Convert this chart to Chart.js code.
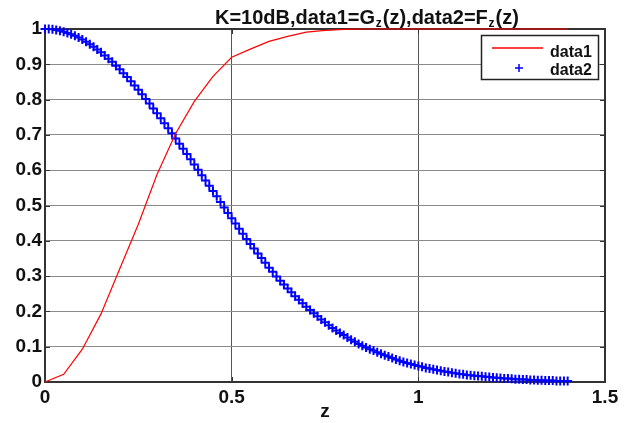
<!DOCTYPE html>
<html>
<head>
<meta charset="utf-8">
<script src="https://cdn.jsdelivr.net/npm/chart.js@4.4.1/dist/chart.umd.min.js"></script>
<style>
  html, body { margin: 0; padding: 0; background: #fff; }
  #wrap { width: 634px; height: 423px; }
</style>
</head>
<body>
<div id="wrap"><canvas id="chart" width="634" height="423"></canvas></div>
<script>
// data1 = G_z(z), red line
const zRed = [0, 0.05, 0.1, 0.15, 0.2, 0.25, 0.3, 0.35, 0.4, 0.45, 0.5, 0.55, 0.6, 0.65, 0.7,
  0.75, 0.8, 0.85, 0.9, 0.95, 1.0, 1.05, 1.1, 1.15, 1.2, 1.25, 1.3, 1.35, 1.4];
const gRed = [0, 0.022, 0.093, 0.193, 0.32, 0.447, 0.588, 0.704, 0.795, 0.866, 0.92, 0.943, 0.965, 0.979, 0.991,
  0.996, 0.999, 1, 1, 1, 1, 1, 1, 1, 1, 1, 1, 1, 1];

// data2 = F_z(z), blue "+" markers
const zBlue = [
  0, 0.01, 0.02, 0.03, 0.04, 0.05, 0.06, 0.07, 0.08, 0.09,
  0.1, 0.11, 0.12, 0.13, 0.14, 0.15, 0.16, 0.17, 0.18, 0.19,
  0.2, 0.21, 0.22, 0.23, 0.24, 0.25, 0.26, 0.27, 0.28, 0.29,
  0.3, 0.31, 0.32, 0.33, 0.34, 0.35, 0.36, 0.37, 0.38, 0.39,
  0.4, 0.41, 0.42, 0.43, 0.44, 0.45, 0.46, 0.47, 0.48, 0.49,
  0.5, 0.51, 0.52, 0.53, 0.54, 0.55, 0.56, 0.57, 0.58, 0.59,
  0.6, 0.61, 0.62, 0.63, 0.64, 0.65, 0.66, 0.67, 0.68, 0.69,
  0.7, 0.71, 0.72, 0.73, 0.74, 0.75, 0.76, 0.77, 0.78, 0.79,
  0.8, 0.81, 0.82, 0.83, 0.84, 0.85, 0.86, 0.87, 0.88, 0.89,
  0.9, 0.91, 0.92, 0.93, 0.94, 0.95, 0.96, 0.97, 0.98, 0.99,
  1.0, 1.01, 1.02, 1.03, 1.04, 1.05, 1.06, 1.07, 1.08, 1.09,
  1.1, 1.11, 1.12, 1.13, 1.14, 1.15, 1.16, 1.17, 1.18, 1.19,
  1.2, 1.21, 1.22, 1.23, 1.24, 1.25, 1.26, 1.27, 1.28, 1.29,
  1.3, 1.31, 1.32, 1.33, 1.34, 1.35, 1.36, 1.37, 1.38, 1.39,
  1.4
];
const fBlue = [
  1.000, 1.000, 0.999, 0.997, 0.995, 0.992, 0.989, 0.985, 0.981, 0.976,
  0.970, 0.964, 0.957, 0.950, 0.942, 0.934, 0.925, 0.916, 0.907, 0.896,
  0.886, 0.875, 0.864, 0.852, 0.840, 0.828, 0.815, 0.802, 0.789, 0.775,
  0.761, 0.747, 0.733, 0.719, 0.705, 0.690, 0.675, 0.661, 0.646, 0.631,
  0.616, 0.601, 0.586, 0.571, 0.556, 0.541, 0.526, 0.510, 0.494, 0.479,
  0.464, 0.449, 0.434, 0.420, 0.405, 0.391, 0.378, 0.364, 0.351, 0.338,
  0.324, 0.312, 0.299, 0.287, 0.276, 0.265, 0.254, 0.243, 0.233, 0.223,
  0.213, 0.204, 0.195, 0.186, 0.177, 0.169, 0.161, 0.153, 0.146, 0.139,
  0.133, 0.126, 0.120, 0.114, 0.108, 0.103, 0.098, 0.093, 0.089, 0.084,
  0.080, 0.076, 0.072, 0.068, 0.064, 0.060, 0.057, 0.054, 0.051, 0.048,
  0.045, 0.043, 0.040, 0.038, 0.036, 0.034, 0.032, 0.030, 0.028, 0.026,
  0.025, 0.023, 0.022, 0.020, 0.019, 0.018, 0.017, 0.016, 0.015, 0.014,
  0.013, 0.012, 0.011, 0.010, 0.010, 0.009, 0.008, 0.008, 0.007, 0.007,
  0.006, 0.006, 0.005, 0.005, 0.004, 0.004, 0.004, 0.003, 0.003, 0.003,
  0.003
];

const xTicks = [0, 0.5, 1, 1.5];
const yTicks = [0, 0.1, 0.2, 0.3, 0.4, 0.5, 0.6, 0.7, 0.8, 0.9, 1];
const titleParts = [
  { text: "K=10dB,data1=G", sub: false },
  { text: "z", sub: true },
  { text: "(z),data2=F", sub: false },
  { text: "z", sub: true },
  { text: "(z)", sub: false },
];
const xLabel = "z";
const seriesNames = ["data1", "data2"];

const RED = "#ff0000";
const BLUE = "#0000ff";
const FONT = '"Liberation Sans", Arial, sans-serif';

// axes box + inner tick marks (drawn under the data, like MATLAB)
const boxPlugin = {
  id: "box",
  beforeDatasetsDraw(chart) {
    const { ctx, chartArea: a, scales } = chart;
    ctx.save();
    ctx.strokeStyle = "#333";
    ctx.lineWidth = 1;
    ctx.beginPath();
    yTicks.forEach((v) => {
      const y = Math.round(scales.y.getPixelForValue(v)) + 0.5;
      ctx.moveTo(a.left, y); ctx.lineTo(a.left + 5, y);
      ctx.moveTo(a.right, y); ctx.lineTo(a.right - 5, y);
    });
    xTicks.forEach((v) => {
      const x = Math.round(scales.x.getPixelForValue(v)) + 0.5;
      ctx.moveTo(x, a.bottom); ctx.lineTo(x, a.bottom - 5);
      ctx.moveTo(x, a.top); ctx.lineTo(x, a.top + 5);
    });
    ctx.stroke();
    ctx.lineWidth = 2;
    ctx.strokeRect(a.left, a.top, a.right - a.left, a.bottom - a.top);
    ctx.restore();
  },
};

// title with subscripts + legend box in the top right corner
const textPlugin = {
  id: "texts",
  afterDraw(chart) {
    const ctx = chart.ctx;
    ctx.save();
    ctx.fillStyle = "#111";
    ctx.textBaseline = "alphabetic";
    let x = 215;
    titleParts.forEach((p) => {
      ctx.font = p.sub ? "bold 12px " + FONT : "bold 20px " + FONT;
      ctx.fillText(p.text, x, p.sub ? 27 : 24);
      x += ctx.measureText(p.text).width + (p.sub ? 1 : 0.7);
    });

    // legend
    ctx.fillStyle = "#fff";
    ctx.fillRect(481.5, 35.5, 117, 44);
    ctx.strokeStyle = "#222";
    ctx.lineWidth = 1.5;
    ctx.strokeRect(481.5, 35.5, 117, 44);

    ctx.beginPath();
    ctx.strokeStyle = RED;
    ctx.lineWidth = 1.5;
    ctx.moveTo(492, 48); ctx.lineTo(543, 48);
    ctx.stroke();

    ctx.beginPath();
    ctx.strokeStyle = BLUE;
    ctx.lineWidth = 1.5;
    ctx.moveTo(515, 68); ctx.lineTo(523, 68);
    ctx.moveTo(519, 64); ctx.lineTo(519, 72);
    ctx.stroke();

    ctx.fillStyle = "#111";
    ctx.font = "bold 16px " + FONT;
    ctx.fillText(seriesNames[0], 550, 57);
    ctx.fillText(seriesNames[1], 550, 75);
    ctx.restore();
  },
};

new Chart(document.getElementById("chart"), {
  type: "scatter",
  data: {
    datasets: [
      {
        label: seriesNames[0],
        data: zRed.map((z, i) => ({ x: z, y: gRed[i] })),
        showLine: true,
        borderColor: RED,
        borderWidth: 1.2,
        pointRadius: 0,
        tension: 0,
        clip: false,
      },
      {
        label: seriesNames[1],
        data: zBlue.map((z, i) => ({ x: z, y: fBlue[i] })),
        showLine: false,
        borderColor: BLUE,
        backgroundColor: BLUE,
        pointStyle: "cross",
        pointRadius: 4.5,
        pointBorderWidth: 2,
        clip: false,
      },
    ],
  },
  options: {
    responsive: false,
    animation: false,
    devicePixelRatio: 1,
    layout: { padding: { left: 0, top: 29, right: 29, bottom: 0 } },
    plugins: {
      legend: { display: false },
      tooltip: { enabled: false },
      title: { display: false },
    },
    scales: {
      x: {
        type: "linear",
        min: 0,
        max: 1.5,
        afterBuildTicks: (s) => { s.ticks = xTicks.map((v) => ({ value: v })); },
        afterFit: (s) => { s.height = 41; },
        ticks: {
          color: "#111",
          font: { family: FONT, size: 19, weight: "bold" },
          padding: 4,
          maxRotation: 0,
          callback: (v) => String(v),
        },
        grid: { color: "#555", lineWidth: 1, drawTicks: false },
        border: { display: false },
        title: {
          display: true,
          text: xLabel,
          color: "#111",
          font: { family: FONT, size: 19, weight: "bold" },
          padding: { top: 0, bottom: 0 },
        },
      },
      y: {
        type: "linear",
        min: 0,
        max: 1,
        afterBuildTicks: (s) => { s.ticks = yTicks.map((v) => ({ value: v })); },
        afterFit: (s) => { s.width = 45; },
        ticks: {
          color: "#111",
          font: { family: FONT, size: 19, weight: "bold" },
          padding: 3,
          callback: (v) => String(v),
        },
        grid: { color: "#8a8a8a", lineWidth: 1, drawTicks: false },
        border: { display: false },
      },
    },
  },
  plugins: [boxPlugin, textPlugin],
});
</script>
</body>
</html>
